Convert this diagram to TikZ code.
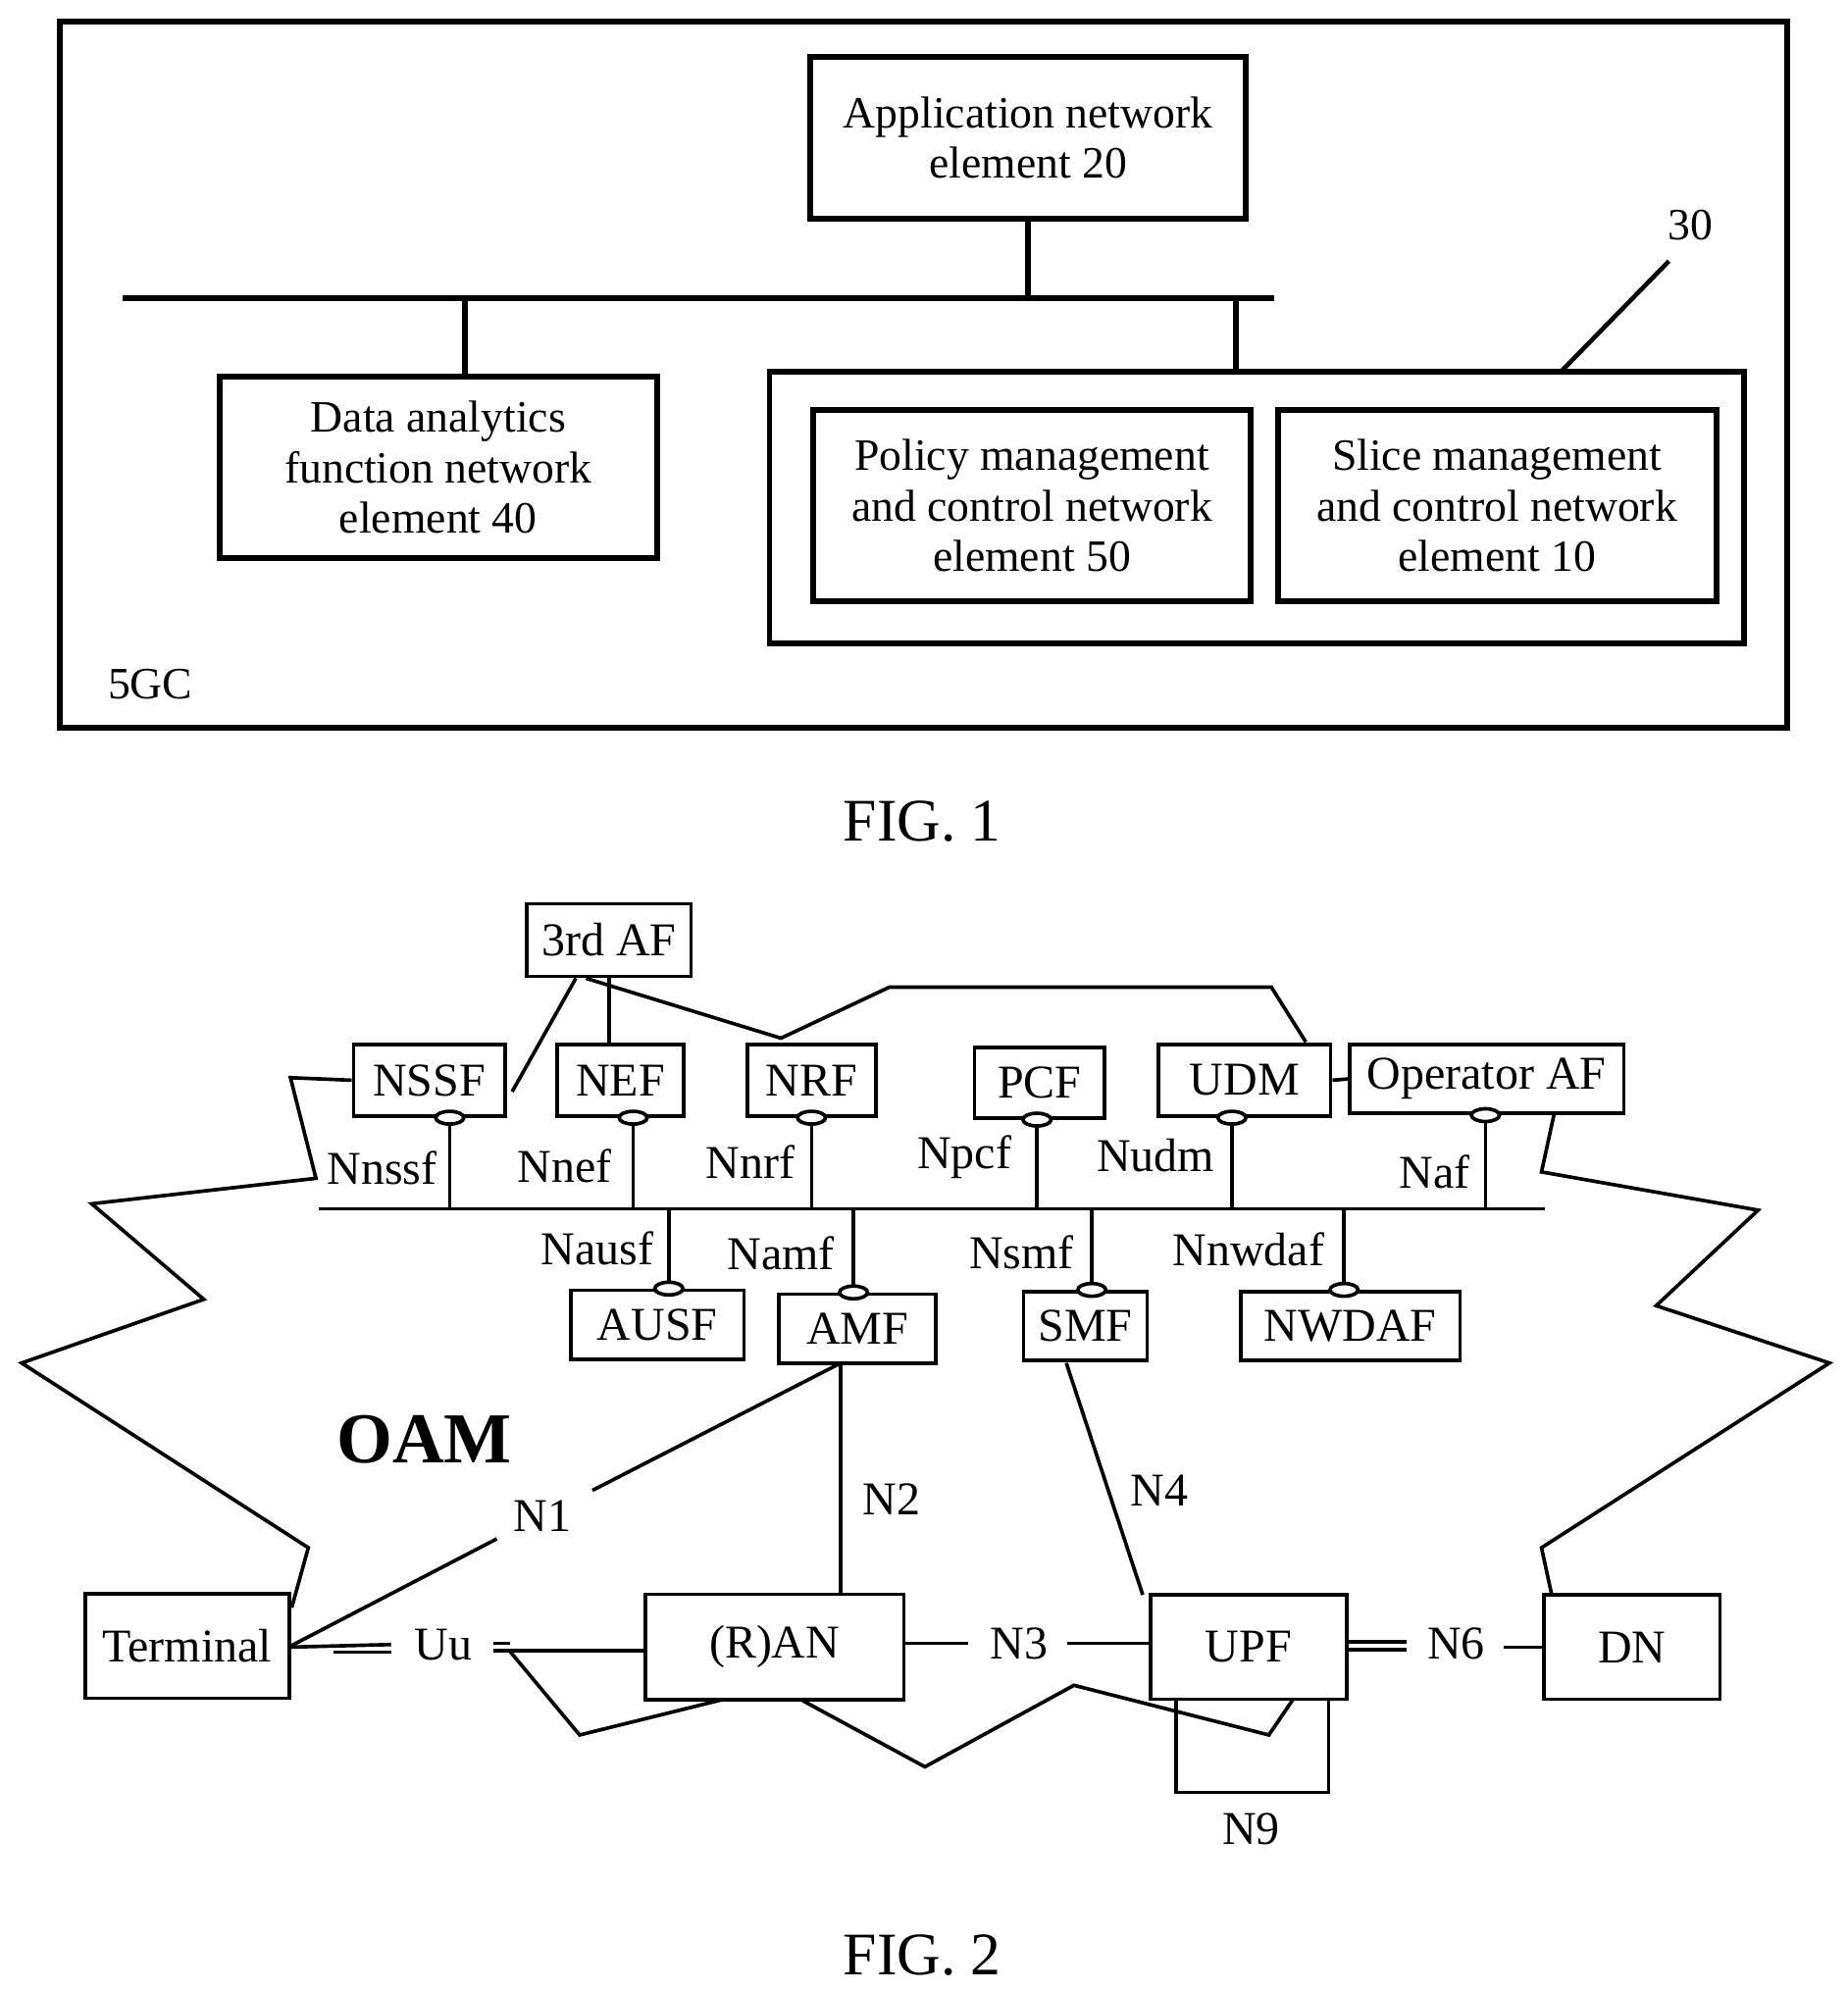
\documentclass[tikz,border=0pt]{standalone}
\usepackage{fontspec}
\setmainfont{Liberation Serif}
\usetikzlibrary{positioning,shapes.geometric}

\begin{document}
\begin{tikzpicture}[x=0.01cm, y=-0.01cm, line join=miter,
    every node/.style={font=\fontsize{10}{11.3}\selectfont, inner sep=0pt},
    bigbox/.style={draw, line width=1.3pt, align=center},
    nf/.style={draw, line width=0.8pt, align=center, font=\fontsize{10.5}{12}\selectfont},
    port/.style={draw, line width=0.8pt, fill=white, ellipse, minimum width=0.22cm, minimum height=0.1cm},
    lab/.style={font=\fontsize{10.5}{12}\selectfont, fill=white, inner sep=1pt},
    wire/.style={line width=0.8pt}]
    \useasboundingbox (0,0) rectangle (1450,1563);
    % FIG. 1
    \draw[line width=1.3pt] (47,17) rectangle (1403,571);
    \node[bigbox, minimum width=3.42cm, minimum height=1.27cm] (app) at (807,108) {Application network\\element 20};
    \node[bigbox, minimum width=3.43cm, minimum height=1.42cm] (dafe) at (344,367) {Data analytics\\function network\\element 40};
    \draw[line width=1.3pt] (604,292) rectangle (1369,505);
    \node[bigbox, minimum width=3.43cm, minimum height=1.5cm] (pcne) at (810,397) {Policy management\\and control network\\element 50};
    \node[bigbox, minimum width=3.44cm, minimum height=1.5cm] (scne) at (1175,397) {Slice management\\and control network\\element 10};
    \coordinate (busl) at (96,234);
    \coordinate (busr) at (1000,234);
    \draw[line width=1.3pt] (busl) -- (busr);
    \draw[line width=1.3pt] (app.south) -- (app.south |- busl);
    \draw[line width=1.3pt] (365,234) -- (365,296);
    \draw[line width=1.3pt] (970,234) -- (970,292);
    \draw[line width=1pt] (1225,292) -- (1310,205);
    \node (n30) at (1327,177) {30};
    \node (fivegc) at (118,537) {5GC};
    \node[font=\fontsize{13.5}{15}\selectfont] (fig1) at (724,645) {FIG. 1};
    % FIG. 2 network functions
    \node[nf, minimum width=1.29cm, minimum height=0.57cm] (af3) at (478,738) {3rd AF};
    \node[nf, minimum width=1.19cm, minimum height=0.56cm] (nssf) at (337,848) {NSSF};
    \node[nf, minimum width=0.99cm, minimum height=0.56cm] (nef) at (487,848) {NEF};
    \node[nf, minimum width=1.01cm, minimum height=0.56cm] (nrf) at (637,848) {NRF};
    \node[nf, minimum width=1.02cm, minimum height=0.55cm] (pcf) at (816,850) {PCF};
    \node[nf, minimum width=1.35cm, minimum height=0.56cm] (udm) at (977,848) {UDM};
    \node[nf, minimum width=2.15cm, minimum height=0.54cm] (opaf) at (1167,847) {Operator AF};
    \node[nf, minimum width=1.36cm, minimum height=0.54cm] (ausf) at (516,1040) {AUSF};
    \node[nf, minimum width=1.23cm, minimum height=0.54cm] (amf) at (673,1043) {AMF};
    \node[nf, minimum width=0.97cm, minimum height=0.54cm] (smf) at (852,1041) {SMF};
    \node[nf, minimum width=1.72cm, minimum height=0.54cm] (nwdaf) at (1060,1041) {NWDAF};
    \node[nf, minimum width=1.6cm, minimum height=0.82cm] (term) at (147,1292) {Terminal};
    \node[nf, minimum width=2.03cm, minimum height=0.83cm] (ran) at (608,1293) {(R)AN};
    \node[nf, minimum width=1.54cm, minimum height=0.82cm] (upf) at (980,1293) {UPF};
    \node[nf, minimum width=1.38cm, minimum height=0.82cm] (dn) at (1281,1293) {DN};
    % service bus
    \coordinate (sbl) at (250,949);
    \coordinate (sbr) at (1213,949);
    \draw[wire] (sbl) -- (sbr);
    \foreach \n/\x in {nssf/353, nef/497, nrf/637, pcf/814, udm/967, opaf/1166} {
        \draw[wire] (\x,949) -- (\x,0 |- \n.south);
        \node[port] at (\x,0 |- \n.south) {};
    }
    \foreach \n/\x in {ausf/525, amf/670, smf/857, nwdaf/1055} {
        \draw[wire] (\x,949) -- (\x,0 |- \n.north);
        \node[port] at (\x,0 |- \n.north) {};
    }
    \node[lab] at (300,917) {Nnssf};
    \node[lab] at (443,915) {Nnef};
    \node[lab] at (589,912) {Nnrf};
    \node[lab] at (757,908) {Npcf};
    \node[lab] at (907,907) {Nudm};
    \node[lab] at (1126,920) {Naf};
    \node[lab] at (469,980) {Nausf};
    \node[lab] at (613,984) {Namf};
    \node[lab] at (802,983) {Nsmf};
    \node[lab] at (980,981) {Nnwdaf};
    \draw[wire] (af3.south) -- (af3.south |- nef.north);
    % cloud outline
    \draw[wire] (nssf.west) -- (228,846) -- (248,925) -- (72,945) -- (160,1020) -- (17,1070)
        -- (242,1215) -- (229,1262);
    \draw[wire] (400,1296) -- (455,1362) -- (568,1334);
    \draw[wire] (630,1335) -- (726,1387) -- (843,1323) -- (996,1362) -- (1015,1334);
    \draw[wire] (1218,1252) -- (1210,1215) -- (1436,1070) -- (1300,1025) -- (1380,950)
        -- (1210,920) -- (1220,874);
    \draw[wire] (402,857) -- (452,768);
    \draw[wire] (460,768) -- (613,815) -- (698,775) -- (998,775) -- (1025,818);
    \draw[wire] (udm.east) -- (opaf.west);
    % reference points
    \node[font=\fontsize{16}{18}\selectfont\bfseries] (oam) at (333,1130) {OAM};
    \node[lab, fill=none] (n1) at (426,1190) {N1};
    \draw[wire] (term.east) -- (390,1208);
    \draw[wire] (465,1170) -- (660,1070);
    \node[lab] (n2) at (700,1177) {N2};
    \draw[wire] (660,1070) -- (660,1252);
    \node[lab] (n4) at (910,1170) {N4};
    \draw[wire] (837,1070) -- (897,1252);
    \node[lab] (n3) at (800,1290) {N3};
    \draw[wire] (ran.east |- 0,1290) -- (760,1290);
    \draw[wire] (838,1290) -- (upf.west |- 0,1290);
    \node[lab] (uu) at (348,1291) {Uu};
    \draw[wire] (term.east |- 0,1293) -- (307,1291);
    \draw[wire] (262,1297) -- (307,1297);
    \draw[wire] (387,1290) -- (400,1290);
    \draw[wire] (387,1296) -- (ran.west |- 0,1296);
    \node[lab] (n6) at (1143,1290) {N6};
    \draw[wire] (upf.east |- 0,1289) -- (1104,1289);
    \draw[wire] (upf.east |- 0,1295) -- (1104,1295);
    \draw[wire] (1180,1293) -- (dn.west |- 0,1293);
    \draw[wire] (923,1334) -- (923,1407) -- (1043,1407) -- (1043,1334);
    \node[lab] (n9) at (982,1436) {N9};
    \node[font=\fontsize{13.5}{15}\selectfont] (fig2) at (724,1535) {FIG. 2};
\end{tikzpicture}
\end{document}
